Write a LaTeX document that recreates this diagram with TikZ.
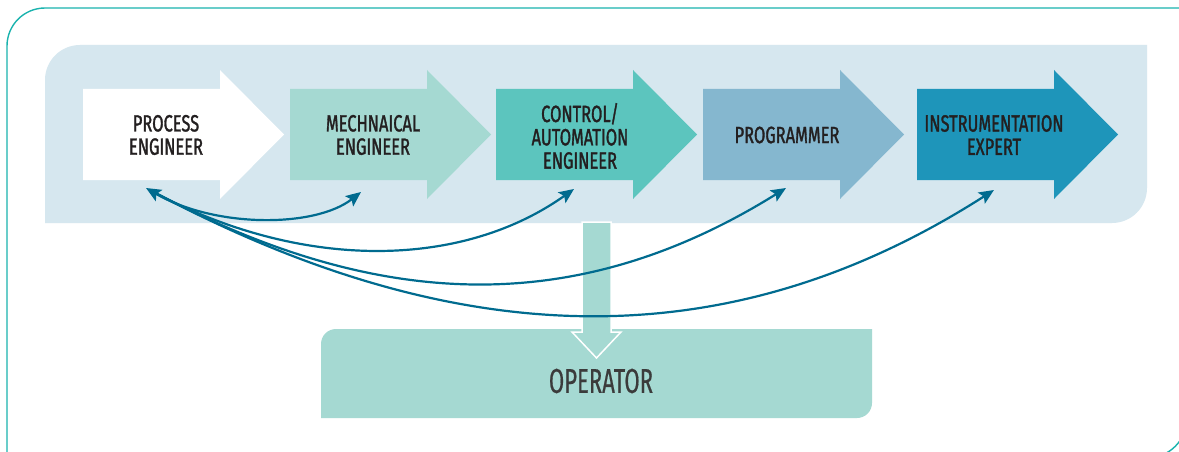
\documentclass[tikz,border=0pt]{standalone}
\usepackage{fontspec}
\usetikzlibrary{arrows.meta}
\newfontfamily\lblfont{Fira Sans}[FakeStretch=0.70,FakeBold=1.3]
\newfontfamily\opfont{Fira Sans}[FakeStretch=0.64,FakeBold=0.5]
\definecolor{framec}{HTML}{1AB3AE}
\definecolor{panelc}{HTML}{D6E7EF}
\definecolor{arrB}{HTML}{A5D9D2}
\definecolor{arrC}{HTML}{5CC5BE}
\definecolor{arrD}{HTML}{85B7CF}
\definecolor{arrE}{HTML}{1E95BA}
\definecolor{linkc}{HTML}{006B8F}
\definecolor{txtc}{HTML}{231F20}
\definecolor{optxt}{HTML}{3B3B3B}
\begin{document}
\begin{tikzpicture}[x=1pt,y=-1pt,
  lbl/.style={align=center,text=txtc,inner sep=0pt,font=\lblfont\fontsize{23.5}{23.3}\selectfont},
  oplbl/.style={text=optxt,inner sep=0pt,font=\opfont\fontsize{34.5}{36}\selectfont},
  link/.style={draw=linkc,line width=2.2pt,-{Stealth[length=15pt,width=13pt,inset=3pt]}},
  flow/.style={line join=miter}]
\useasboundingbox (0,0) rectangle (1179,452);
\clip (0,0) rectangle (1179,452);
\fill[white] (0,0) rectangle (1179,452);
% outer frame
\draw[framec,line width=1.4pt] (7,458) -- (7,46) arc[start angle=180,end angle=270,radius=38]
  -- (1187,8) -- (1187,418) arc[start angle=0,end angle=90,radius=40] -- cycle;
% panel
\fill[panelc] (45,223) -- (45,80) arc[start angle=180,end angle=270,radius=35]
  -- (1147,45) -- (1147,188) arc[start angle=0,end angle=90,radius=35] -- cycle;
% process arrows
\foreach \x/\c in {83/white,290/arrB,496/arrC,703/arrD,917/arrE}{
  \fill[\c] (\x,89) -- (\x+137,89) -- (\x+137,70) -- (\x+201,134.5)
    -- (\x+137,199) -- (\x+137,180) -- (\x,180) -- cycle;
}
\node[lbl] (pe) at (166,135) {PROCESS\\ENGINEER};
\node[lbl] (me) at (373,135) {MECHNAICAL\\ENGINEER};
\node[lbl] (ce) at (580,136) {CONTROL/\\AUTOMATION\\ENGINEER};
\node[lbl] (pr) at (787,135) {PROGRAMMER};
\node[lbl] (ie) at (994,135) {INSTRUMENTATION\\EXPERT};
% operator box
\fill[arrB] (321,418) -- (321,344) arc[start angle=180,end angle=270,radius=15]
  -- (872,329) -- (872,403) arc[start angle=0,end angle=90,radius=15] -- cycle;
\node[oplbl] (op) at (601,381) {OPERATOR};
% down arrow
\filldraw[fill=arrB,draw=white,line width=1.5pt,line join=miter]
  (582,222) -- (611,222) -- (611,332) -- (621,332) -- (596.5,358)
  -- (572,332) -- (582,332) -- cycle;
% connector end points
\coordinate (s) at (146,188);
\coordinate (tme) at (361,192);
\coordinate (tce) at (574,189);
\coordinate (tpr) at (786,188);
\coordinate (tie) at (994,190);
% connectors
\draw[link,shorten <=9pt] (s) .. controls (464,357) and (733,357) .. (tie);
\draw[link,shorten <=9pt] (s) .. controls (385,315) and (582,315) .. (tpr);
\draw[link,shorten <=9pt] (s) .. controls (300,270) and (460,270) .. (tce);
\draw[link,{Stealth[length=15pt,width=13pt,inset=3pt]}-{Stealth[length=15pt,width=13pt,inset=3pt]}]
  (s) .. controls (215,228) and (315,228) .. (tme);
\end{tikzpicture}
\end{document}
